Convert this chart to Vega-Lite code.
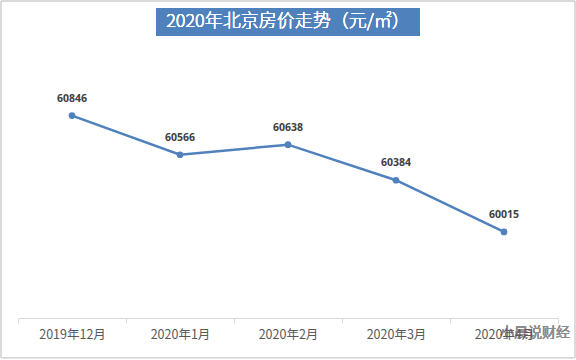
{
  "$schema": "https://vega.github.io/schema/vega-lite/v6.json",
  "width": 540,
  "height": 224,
  "autosize": {"type": "none"},
  "padding": {"left": 18, "top": 94, "right": 18, "bottom": 42},
  "background": "white",
  "config": {"view": {"stroke": null}},
  "data": {
    "values": [
      {"month": "2019年12月", "price": 60846},
      {"month": "2020年1月", "price": 60566},
      {"month": "2020年2月", "price": 60638},
      {"month": "2020年3月", "price": 60384},
      {"month": "2020年4月", "price": 60015}
    ]
  },
  "encoding": {
    "x": {
      "field": "month",
      "type": "nominal",
      "scale": {
        "type": "band",
        "domain": ["2019年12月", "2020年1月", "2020年2月", "2020年3月", "2020年4月"],
        "paddingInner": 0,
        "paddingOuter": 0
      },
      "axis": {
        "title": null,
        "tickBand": "extent",
        "domainColor": "#d9d9d9",
        "tickColor": "#d9d9d9",
        "tickSize": 5,
        "labelColor": "#595959",
        "labelFontSize": 12.5,
        "labelFont": "Noto Sans CJK SC",
        "labelFontWeight": "normal",
        "labelPadding": 5,
        "labelAngle": 0,
        "grid": false
      }
    },
    "y": {
      "field": "price",
      "type": "quantitative",
      "scale": {"domain": [59400, 61000], "zero": false, "nice": false},
      "axis": null
    }
  },
  "layer": [
    {
      "mark": {"type": "rect", "fill": "transparent", "stroke": "#d9d9d9", "strokeWidth": 1, "width": 574, "clip": false},
      "encoding": {
        "x": {"datum": "2020年2月"},
        "y": {"datum": 59116},
        "y2": {"datum": 61664}
      }
    },
    {
      "mark": {"type": "rect", "fill": "#4f81bd", "width": 264, "clip": false},
      "encoding": {
        "x": {"datum": "2020年2月"},
        "y": {"datum": 61414},
        "y2": {"datum": 61614}
      }
    },
    {
      "mark": {"type": "text", "color": "white", "fontSize": 18, "fontWeight": 300, "font": "Noto Sans CJK SC", "align": "center", "baseline": "middle", "clip": false},
      "encoding": {
        "x": {"datum": "2020年2月"},
        "y": {"datum": 61514},
        "text": {"value": "2020年北京房价走势（元/㎡）"}
      }
    },
    {
      "mark": {"type": "line", "color": "#4f81bd", "strokeWidth": 2.5}
    },
    {
      "mark": {"type": "point", "filled": true, "color": "#4f81bd", "size": 45, "opacity": 1}
    },
    {
      "mark": {"type": "text", "fontWeight": "bold", "fontSize": 10.5, "font": "Open Sans", "color": "#404040", "dy": -17, "baseline": "middle"},
      "encoding": {"text": {"field": "price", "type": "quantitative", "format": "d"}}
    },
    {
      "mark": {"type": "text", "color": "#8c8c8c", "fontSize": 14, "font": "Noto Sans CJK SC", "align": "left", "baseline": "middle", "dx": -4, "opacity": 0.85, "clip": false},
      "encoding": {
        "x": {"datum": "2020年4月"},
        "y": {"datum": 59290},
        "text": {"value": "小晨说财经"}
      }
    }
  ]
}
